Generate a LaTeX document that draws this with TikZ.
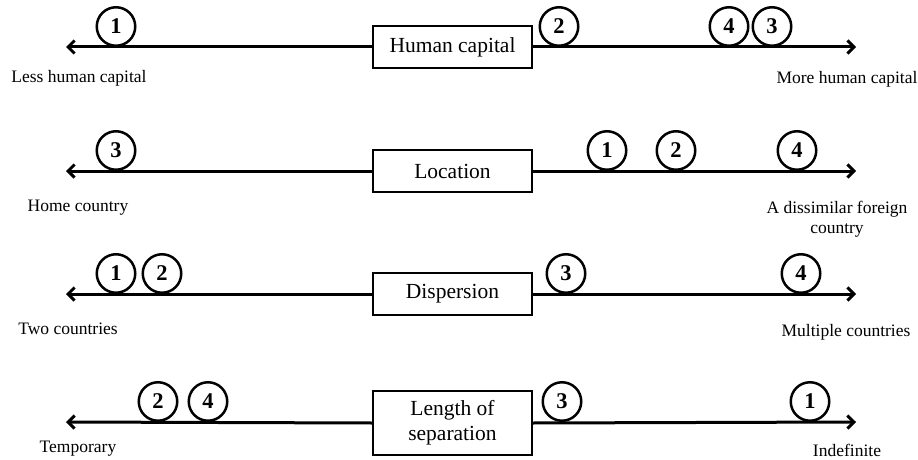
\documentclass[tikz,border=0pt]{standalone}
\usepackage{fontspec}
\setmainfont{Liberation Serif}
\usetikzlibrary{arrows.meta}
\tikzset{
  halfaxis/.style={line width=3pt, -{Straight Barb[length=6.5pt,width=13pt]}},
  catbox/.style={draw, line width=1.3pt, fill=white, minimum width=159pt, minimum height=42pt, inner sep=2pt, align=center, font=\fontsize{21.5}{25}\selectfont},
  num/.style={circle, draw, line width=2.5pt, minimum size=38.5pt, inner sep=0pt, outer sep=0pt, font=\fontsize{22.5}{22.5}\selectfont\bfseries},
  endlabel/.style={align=center, inner sep=0pt, font=\fontsize{17.5}{20.5}\selectfont}
}
\begin{document}
\begin{tikzpicture}[x=1pt,y=-1pt]
\useasboundingbox (0,0) rectangle (918,460);
% Row 1
\coordinate (L1) at (66,47);
\coordinate (R1) at (856,47);
\node[catbox] (b1) at (452.5,47) {Human capital};
\draw[halfaxis] (b1.west) -- (L1);
\draw[halfaxis] (b1.east) -- (R1);
\node[num] (r1n1) at (116,26.5) {1};
\node[num] (r1n2) at (559,26.5) {2};
\node[num] (r1n4) at (729,26.5) {4};
\node[num] (r1n3) at (772,26.5) {3};
\node[endlabel] (l1) at (79,78) {Less human capital};
\node[endlabel] (m1) at (847,79) {More human capital};
% Row 2
\coordinate (L2) at (66,171);
\coordinate (R2) at (856,171);
\node[catbox] (b2) at (452.5,171) {Location};
\draw[halfaxis] (b2.west) -- (L2);
\draw[halfaxis] (b2.east) -- (R2);
\node[num] (r2n3) at (116,150.5) {3};
\node[num] (r2n1) at (607,150.5) {1};
\node[num] (r2n2) at (676,150.5) {2};
\node[num] (r2n4) at (797,150.5) {4};
\node[endlabel] (l2) at (78,208) {Home country};
\node[endlabel] (m2) at (837,219) {A dissimilar foreign\\country};
% Row 3
\coordinate (L3) at (66,294);
\coordinate (R3) at (856,294);
\node[catbox] (b3) at (452.5,294) {Dispersion};
\draw[halfaxis] (b3.west) -- (L3);
\draw[halfaxis] (b3.east) -- (R3);
\node[num] (r3n1) at (116,273.5) {1};
\node[num] (r3n2) at (162,273.5) {2};
\node[num] (r3n3) at (566,273.5) {3};
\node[num] (r3n4) at (801,273.5) {4};
\node[endlabel] (l3) at (68,329) {Two countries};
\node[endlabel] (m3) at (846,332) {Multiple countries};
% Row 4
\coordinate (L4) at (66,422);
\coordinate (R4) at (856,422);
\node[catbox, minimum height=64pt] (b4) at (452.5,423) {Length of\\separation};
\draw[halfaxis] (b4.west) -- (L4);
\draw[halfaxis] (b4.east) -- (R4);
\node[num] (r4n2) at (158,401.5) {2};
\node[num] (r4n4) at (208,401.5) {4};
\node[num] (r4n3) at (562,401.5) {3};
\node[num] (r4n1) at (810,401.5) {1};
\node[endlabel] (l4) at (78,449) {Temporary};
\node[endlabel] (m4) at (847,450) {Indefinite};
\end{tikzpicture}
\end{document}
